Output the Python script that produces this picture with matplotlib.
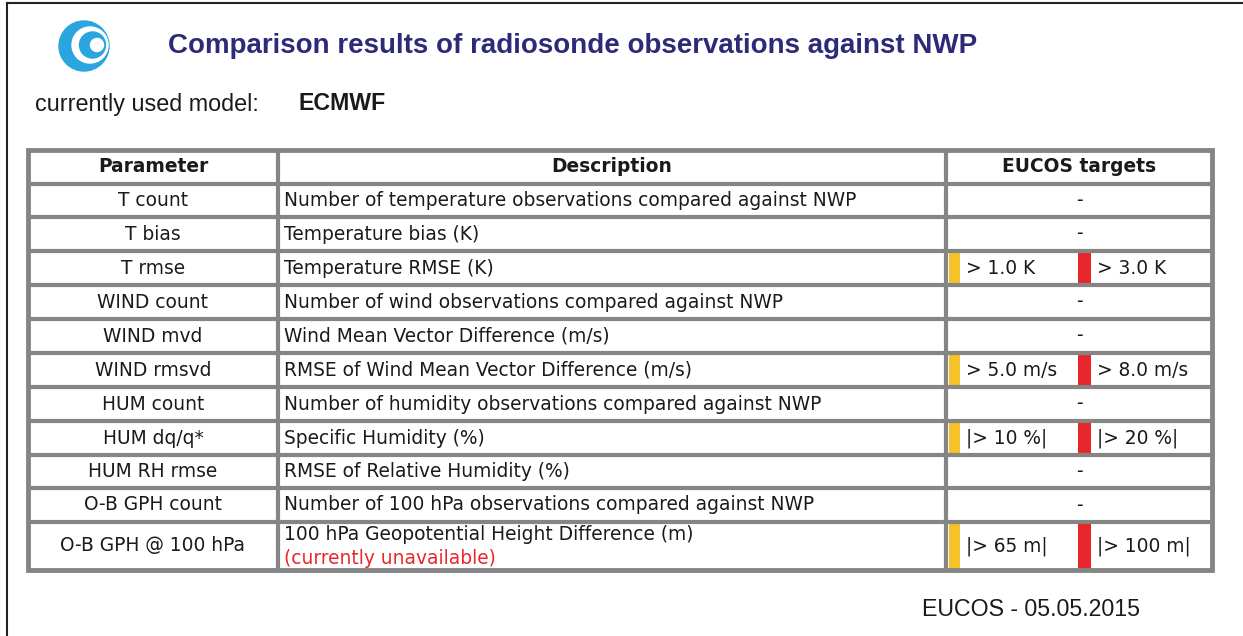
import matplotlib.pyplot as plt
from matplotlib.patches import Circle, Rectangle

# table content
parameters = ["T count", "T bias", "T rmse", "WIND count", "WIND mvd", "WIND rmsvd",
              "HUM count", "HUM dq/q*", "HUM RH rmse", "O-B GPH count", "O-B GPH @ 100 hPa"]
descriptions = [
    "Number of temperature observations compared against NWP",
    "Temperature bias (K)",
    "Temperature RMSE (K)",
    "Number of wind observations compared against NWP",
    "Wind Mean Vector Difference (m/s)",
    "RMSE of Wind Mean Vector Difference (m/s)",
    "Number of humidity observations compared against NWP",
    "Specific Humidity (%)",
    "RMSE of Relative Humidity (%)",
    "Number of 100 hPa observations compared against NWP",
    "100 hPa Geopotential Height Difference (m)",
]
notes = [None] * 10 + ["(currently unavailable)"]
yellow_targets = [None, None, "> 1.0 K", None, None, "> 5.0 m/s", None, "|> 10 %|", None, None, "|> 65 m|"]
red_targets = [None, None, "> 3.0 K", None, None, "> 8.0 m/s", None, "|> 20 %|", None, None, "|> 100 m|"]
headers = ["Parameter", "Description", "EUCOS targets"]

# layout (pixels)
row_lines = [150, 184, 217, 251, 285, 319, 353, 387, 421, 455, 488, 522, 570]
col_lines = [28, 278, 946, 1212]
GRID = "#858585"
YELLOW = "#F4C22B"
RED = "#E8262A"
TXT = "#1a1a1a"
TFONT = "DejaVu Sans"
TSIZE = 13.4

fig = plt.figure(figsize=(12.43, 6.36), dpi=100)
ax = fig.add_axes([0, 0, 1, 1])
ax.set_xlim(0, 1243)
ax.set_ylim(636, 0)
ax.axis("off")

# page frame
ax.plot([7, 1243], [3, 3], color="#222222", lw=1.5)
ax.plot([7, 7], [3, 636], color="#222222", lw=1.5)

# logo
ax.add_patch(Circle((84, 46), 25, color="#2AA5DF"))
ax.add_patch(Circle((90, 45), 18, color="white"))
ax.add_patch(Circle((92.5, 45), 13, color="#2AA5DF"))
ax.add_patch(Circle((97, 45), 6.5, color="white"))

ax.text(168, 46, "Comparison results of radiosonde observations against NWP",
        fontsize=20, fontweight="bold", color="#2D2A78", family="Liberation Sans",
        ha="left", va="center")
ax.text(35, 104, "currently used model:", fontsize=16.8, color=TXT,
        family="Liberation Sans", ha="left", va="center")
ax.text(299, 104, "ECMWF", fontsize=16.7, fontweight="bold", color=TXT,
        family="Liberation Sans", ha="left", va="center")

# headers
hy = (row_lines[0] + row_lines[1]) / 2
for i, h in enumerate(headers):
    xc = (col_lines[i] + col_lines[i + 1]) / 2
    ax.text(xc, hy, h, fontsize=TSIZE, fontweight="bold", color=TXT, family=TFONT,
            ha="center", va="center")

# rows
pcx = (col_lines[0] + col_lines[1]) / 2
tcx = (col_lines[2] + col_lines[3]) / 2
for i, p in enumerate(parameters):
    y0, y1 = row_lines[i + 1], row_lines[i + 2]
    yc = (y0 + y1) / 2
    ax.text(pcx, yc, p, fontsize=TSIZE, color=TXT, family=TFONT, ha="center", va="center")
    if notes[i]:
        ax.text(col_lines[1] + 6, yc - 11, descriptions[i], fontsize=TSIZE, color=TXT,
                family=TFONT, ha="left", va="center")
        ax.text(col_lines[1] + 6, yc + 12, notes[i], fontsize=TSIZE, color="#E8262A",
                family=TFONT, ha="left", va="center")
    else:
        ax.text(col_lines[1] + 6, yc, descriptions[i], fontsize=TSIZE, color=TXT,
                family=TFONT, ha="left", va="center")
    if yellow_targets[i] is None:
        ax.text(tcx, yc, "-", fontsize=TSIZE, color=TXT, family=TFONT,
                ha="center", va="center")
    else:
        ax.add_patch(Rectangle((949, y0), 11, y1 - y0, color=YELLOW, lw=0))
        ax.add_patch(Rectangle((1078, y0), 13, y1 - y0, color=RED, lw=0))
        ax.text(966, yc, yellow_targets[i], fontsize=TSIZE, color=TXT, family=TFONT,
                ha="left", va="center")
        ax.text(1097, yc, red_targets[i], fontsize=TSIZE, color=TXT, family=TFONT,
                ha="left", va="center")

# grid
ax.hlines(row_lines[1:-1], col_lines[0], col_lines[-1], color=GRID, lw=3)
ax.vlines(col_lines[1:-1], row_lines[0], row_lines[-1], color=GRID, lw=3)
ax.add_patch(Rectangle((col_lines[0], row_lines[0]), col_lines[-1] - col_lines[0],
                       row_lines[-1] - row_lines[0], fill=False, edgecolor=GRID, lw=3.5))

ax.text(922, 610, "EUCOS - 05.05.2015", fontsize=16.7, color=TXT,
        family="Liberation Sans", ha="left", va="center")

fig.savefig("out.png", dpi=100)
